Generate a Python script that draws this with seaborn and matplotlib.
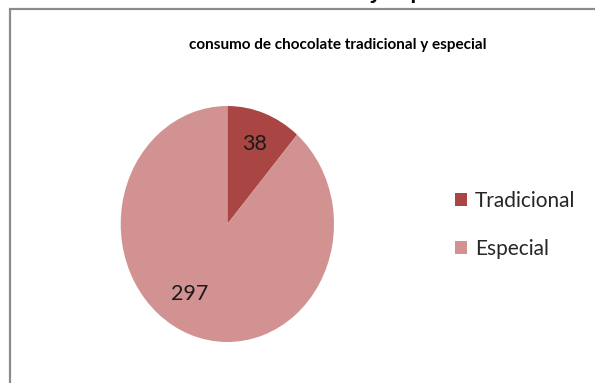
import matplotlib
matplotlib.use("Agg")
import matplotlib.pyplot as plt
import seaborn as sns
import numpy as np
from matplotlib.patches import Rectangle

categories = ["Tradicional", "Especial"]
values = [38, 297]
title = "consumo de chocolate tradicional y especial"
cut_heading = "de chocolate tradicional y especial"

sns.set_theme(style="white")
plt.rcParams["font.family"] = ["Lato", "DejaVu Sans"]
colors = sns.color_palette(["#A94644", "#D39292"])

W, H = 595, 383
fig = plt.figure(figsize=(W / 100, H / 100), dpi=100)
fig.patch.set_facecolor("white")

# outer chart frame (only left and top visible)
fig.patches.append(Rectangle((10 / W, -0.1), 1.2, (H - 9) / H + 0.1,
                             transform=fig.transFigure, fill=False,
                             edgecolor="#8c8c8c", linewidth=1.6))

# heading cut off at the top of the image
fig.text(470 / W, 1 + 1.0 / H, cut_heading, ha="right", va="baseline",
         fontsize=15, fontweight="bold", color="black",
         family=["Liberation Sans", "DejaVu Sans"])

# pie axes
left, right, top, bottom = 120.7, 334.0, 106.0, 342.0
ax = fig.add_axes([left / W, (H - bottom) / H, (right - left) / W, (bottom - top) / H])
wedges, texts = ax.pie(values, colors=colors, startangle=90, counterclock=False,
                       labels=[str(v) for v in values], labeldistance=0.72,
                       wedgeprops=dict(linewidth=0),
                       textprops=dict(fontsize=15.5, color="#1a1a1a"))
label_shift = [0, -10]
label_r = [0.72, 0.69]
for w, t, s, r in zip(wedges, texts, label_shift, label_r):
    ang = np.deg2rad((w.theta1 + w.theta2) / 2 + s)
    t.set_position((r * np.cos(ang), r * np.sin(ang)))
    t.set_ha("center")
    t.set_va("center")
ax.set_aspect("auto")
ax.set_xlim(-1, 1)
ax.set_ylim(-1, 1)

fig.text(338 / W, 1 - 45 / H, title, ha="center", va="center",
         fontsize=11, fontweight="bold", color="black")

leg = fig.legend(wedges, categories, loc="center left",
                 bbox_to_anchor=(445 / W, 1 - 225 / H), frameon=False,
                 fontsize=15, handlelength=0.55, handleheight=0.55,
                 handletextpad=0.4, labelspacing=1.35, borderpad=0,
                 labelcolor="#262626")

fig.savefig("out.png", dpi=100)
